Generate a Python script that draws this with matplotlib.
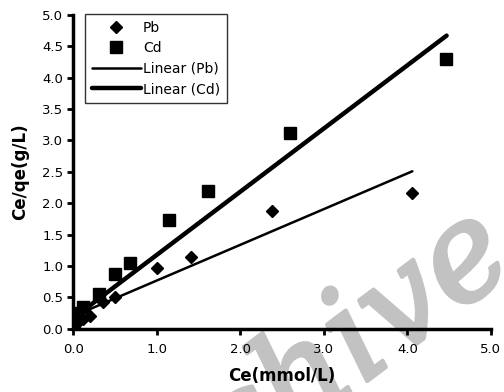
import numpy as np
import matplotlib
matplotlib.use("Agg")
import matplotlib.pyplot as plt
import matplotlib.patheffects as pe

plt.rcParams['font.family'] = ['DejaVu Sans']

# ------------------------
# Data
# ------------------------
pb_x = [0.0, 0.01, 0.03, 0.06, 0.12, 0.2, 0.36, 0.5, 1.0, 1.41, 2.38, 4.06]
pb_y = [0.0, 0.04, 0.08, 0.12, 0.16, 0.2, 0.43, 0.5, 0.97, 1.15, 1.88, 2.17]

cd_x = [0.0, 0.01, 0.03, 0.06, 0.12, 0.31, 0.5, 0.68, 1.15, 1.62, 2.59, 4.46]
cd_y = [0.06, 0.11, 0.17, 0.25, 0.35, 0.56, 0.88, 1.05, 1.74, 2.2, 3.12, 4.29]

# trendline end points
pb_fit_x = [0.0, 4.06]
pb_fit_y = [0.2, 2.51]
cd_fit_x = [0.0, 4.47]
cd_fit_y = [0.17, 4.67]

x_ticks = [0.0, 1.0, 2.0, 3.0, 4.0, 5.0]
y_ticks = [0.0, 0.5, 1.0, 1.5, 2.0, 2.5, 3.0, 3.5, 4.0, 4.5, 5.0]

# ------------------------
# Plot
# ------------------------
fig = plt.figure(figsize=(5.04, 3.92), dpi=100)
ax = fig.add_axes([0.145, 0.161, 0.829, 0.801])

ax.plot(pb_x, pb_y, linestyle='none', marker='D', markersize=6.2,
        color='black', label='Pb', zorder=3)
ax.plot(cd_x, cd_y, linestyle='none', marker='s', markersize=8,
        color='black', label='Cd', zorder=3)
ax.plot(pb_fit_x, pb_fit_y, color='black', linewidth=1.8,
        label='Linear (Pb)', solid_capstyle='round')
ax.plot(cd_fit_x, cd_fit_y, color='black', linewidth=3.2,
        label='Linear (Cd)', solid_capstyle='round')

ax.set_xlim(0, 5)
ax.set_ylim(0, 5)
ax.set_xticks(x_ticks)
ax.set_yticks(y_ticks)
ax.set_xticklabels([f"{v:.1f}" for v in x_ticks])
ax.set_yticklabels([f"{v:.1f}" for v in y_ticks])
ax.tick_params(direction='out', length=4, width=2, labelsize=9.5)
ax.tick_params(axis='x', pad=6.5)
ax.tick_params(axis='y', pad=3)

for side in ['top', 'right']:
    ax.spines[side].set_visible(False)
for side in ['left', 'bottom']:
    ax.spines[side].set_linewidth(2.5)
ax.patch.set_alpha(0)

ax.set_xlabel("Ce(mmol/L)", fontsize=12, fontweight='bold', labelpad=7.5)
ax.set_ylabel("Ce/qe(g/L)", fontsize=12, fontweight='bold', labelpad=9.5)

leg = ax.legend(loc='upper left', bbox_to_anchor=(0.029, 1.003), fontsize=10,
                frameon=True, fancybox=False, edgecolor='black',
                borderpad=0.5, labelspacing=0.46, handlelength=3.5,
                handletextpad=0.15, borderaxespad=0)
leg.get_frame().set_linewidth(1.0)

# watermark
wm_color = '#c2c2c2'
fig.text(1.03, 0.32, "Archive", fontsize=96, color=wm_color,
         family='DejaVu Serif', style='italic',
         rotation=37, rotation_mode='anchor', ha='right', va='baseline',
         zorder=-1,
         path_effects=[pe.withStroke(linewidth=3, foreground=wm_color)])

plt.savefig("out.png", dpi=100)
